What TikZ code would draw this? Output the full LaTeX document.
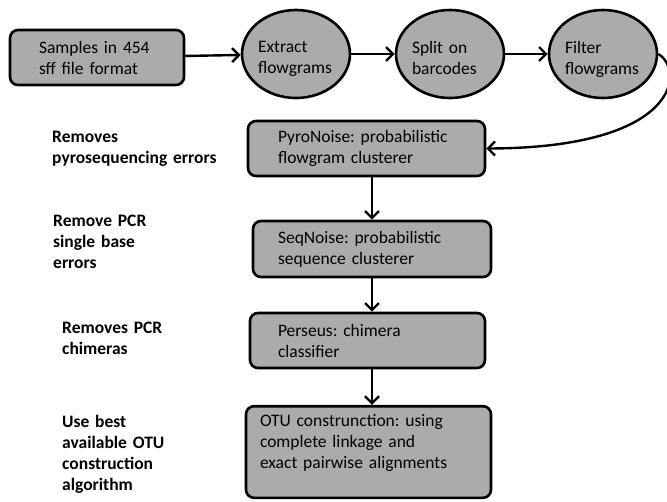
\documentclass[tikz,border=0pt]{standalone}
\usepackage{fontspec}
\setmainfont{Carlito}
\usetikzlibrary{shapes.geometric,arrows.meta}
\definecolor{boxgray}{gray}{0.67}
\newcommand{\boxfont}{\fontsize{17.5}{21}\selectfont\frenchspacing}

\begin{document}
\begin{tikzpicture}[x=1pt,y=-1pt,
  >={Straight Barb[length=7pt,width=14pt]},
  stepbox/.style={draw=black,fill=boxgray,line width=2.6pt,rounded corners=8pt,
    align=left,minimum height=55pt,font=\boxfont},
  stepoval/.style={ellipse,draw=black,fill=boxgray,line width=2.6pt,align=left,
    minimum width=108pt,minimum height=88pt,inner sep=0pt,text width=76pt,text depth=14pt,font=\boxfont},
  note/.style={font=\boxfont\bfseries,align=left,anchor=base west,inner sep=0pt,
    text width=180pt},
  flow/.style={line width=2.4pt,->}]
  \useasboundingbox (0,0) rectangle (667,501);
  \node[stepbox,inner xsep=29pt,text width=116pt] (samples) at ( 97.0, 57.5) {Samples in 454\\sff file format};
  \node[stepoval] (extract) at (296,54) {Extract\\flowgrams};
  \node[stepoval] (split)   at (450,54) {Split on\\barcodes};
  \node[stepoval] (filter)  at (603,54) {Filter\\flowgrams};
  \node[stepbox,inner xsep=30pt,text width=177pt] (pyro)    at (366.5,148.5) {PyroNoise: probabilistic\\flowgram clusterer};
  \node[stepbox,inner xsep=25pt,text width=188pt,minimum height=56pt] (seq) at (372.0,249.0) {SeqNoise: probabilistic\\sequence clusterer};
  \node[stepbox,inner xsep=28pt,text width=179pt] (perseus) at (367.5,340.5) {Perseus: chimera\\classifier};
  \node[stepbox,inner xsep=14pt,text width=217pt,minimum height=0pt,inner ysep=8.5pt,text depth=62.5pt]
    (otu) at (368.5,452.0) {OTU construnction: using\\complete linkage and\\exact pairwise alignments};
  \node[note] (lpyro)    at (52,142) {Removes\\pyrosequencing errors};
  \node[note] (lseq)     at (53,226) {Remove PCR\\single base\\errors};
  \node[note] (lperseus) at (62,333) {Removes PCR\\chimeras};
  \node[note] (lotu)     at (62,427) {Use best\\available OTU\\construction\\algorithm};
  \draw[flow] (samples) -- (extract);
  \draw[flow] (extract) -- (split);
  \draw[flow] (split) -- (filter);
  \draw[flow] (filter.east) .. controls (685,70) and (680,148) .. (pyro.east);
  \draw[flow] (pyro.south -| seq.north) -- (seq.north);
  \draw[flow] (seq.south) -- (seq.south |- perseus.north);
  \draw[flow] (perseus.south -| seq.south) -- (otu.north -| seq.south);
\end{tikzpicture}
\end{document}
